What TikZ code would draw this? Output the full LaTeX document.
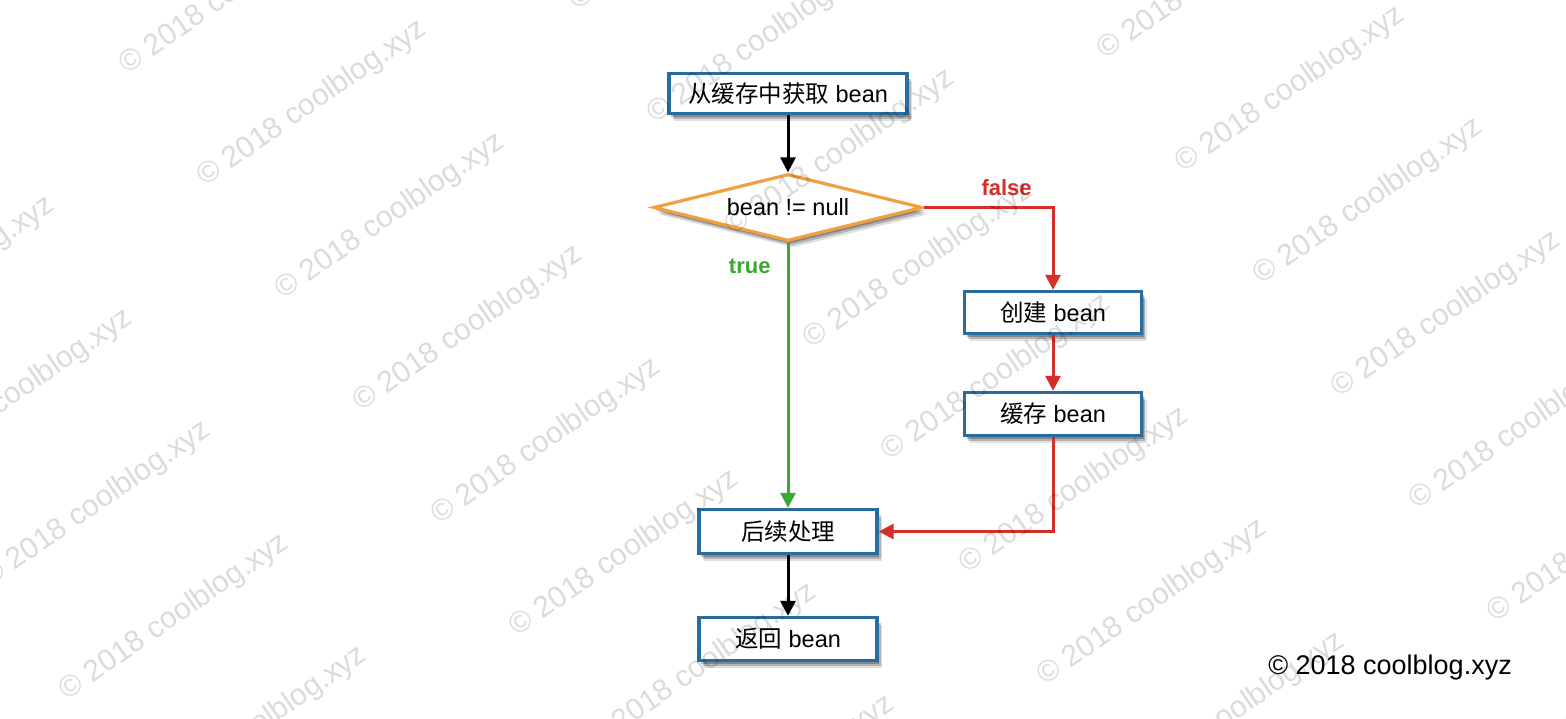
\documentclass[tikz,border=0pt]{standalone}
\usepackage{fontspec}
\setmainfont{Liberation Sans}
\newfontfamily\cjk{Noto Sans CJK SC}
\usetikzlibrary{arrows.meta,shapes.geometric,shadows}
\definecolor{boxblue}{RGB}{40,108,160}
\definecolor{dorange}{RGB}{240,160,64}
\definecolor{fred}{RGB}{214,46,40}
\definecolor{tgreen}{RGB}{58,168,50}
\tikzset{
  softshadow/.style={
    drop shadow={shadow xshift=5pt, shadow yshift=-7pt, opacity=.12, fill=black},
    drop shadow={shadow xshift=3.5pt, shadow yshift=-5pt, opacity=.2, fill=black},
    drop shadow={shadow xshift=2pt, shadow yshift=-3pt, opacity=.25, fill=black}},
  box/.style={draw=boxblue, line width=3.4pt, fill=white, inner sep=0pt,
    font=\fontsize{23.5}{28}\selectfont, softshadow},
  decision/.style={diamond, draw=dorange, line width=3.2pt, fill=white, aspect=3.9,
    inner sep=0pt, minimum width=269pt, minimum height=67pt,
    font=\fontsize{23.5}{28}\selectfont, softshadow},
  flow/.style={line width=3pt, -{Triangle[length=15pt,width=15pt]}},
  lbl/.style={font=\bfseries\fontsize{22}{26}\selectfont, inner sep=0pt},
  wm/.style={font=\fontsize{30}{34}\selectfont, text=black, text opacity=.14,
    rotate=34.6, anchor=west, inner sep=0pt},
  copy/.style={font=\fontsize{27}{32}\selectfont, inner sep=0pt}
}
\begin{document}
\begin{tikzpicture}[x=1pt,y=-1pt]
\useasboundingbox (0,0) rectangle (1566,718);
\clip (0,0) rectangle (1566,718);
\fill[white] (0,0) rectangle (1566,718);
% nodes
\node[box, minimum width=238pt, minimum height=40pt] (b1) at (788,93.5) {{\cjk 从缓存中获取} bean};
\node[decision] (dia) at (788,207.5) {bean != null};
\node[box, minimum width=177pt, minimum height=42pt] (c1) at (1053,312.5) {{\cjk 创建} bean};
\node[box, minimum width=177pt, minimum height=43pt] (c2) at (1053,414) {{\cjk 缓存} bean};
\node[box, minimum width=178pt, minimum height=44pt] (p) at (788,531.5) {{\cjk 后续处理}};
\node[box, minimum width=178pt, minimum height=43pt] (r) at (788,639) {{\cjk 返回} bean};
% connectors
\draw[flow, black] (b1.south) -- (dia.north);
\draw[flow, fred] (dia.east) -| node[lbl, pos=0.32, above=10pt] (lf) {false} (c1.north);
\draw[flow, tgreen] (dia.south) -- node[lbl, pos=0.09, left=16pt] (lt) {true} (p.north);
\draw[flow, fred] (c1.south) -- (c2.north);
\draw[flow, fred] (c2.south) |- (p.east);
\draw[flow, black] (p.south) -- (r.north);
% copyright
\node[copy, anchor=east] (cp) at (1512,668) {© 2018 coolblog.xyz};
% watermarks
\foreach \k [count=\ki] in {-1,0,1,2}{
  \foreach \j [count=\ji] in {-1,0,1,2,3,4,5,6,7,8}{
    \pgfmathsetmacro\wx{132+78*\j+528*\k-9}
    \pgfmathsetmacro\wy{62+112.5*\j+49*\k+6}
    \node[wm] (wm\ki-\ji) at (\wx,\wy) {© 2018 coolblog.xyz};
  }
}
\end{tikzpicture}
\end{document}
